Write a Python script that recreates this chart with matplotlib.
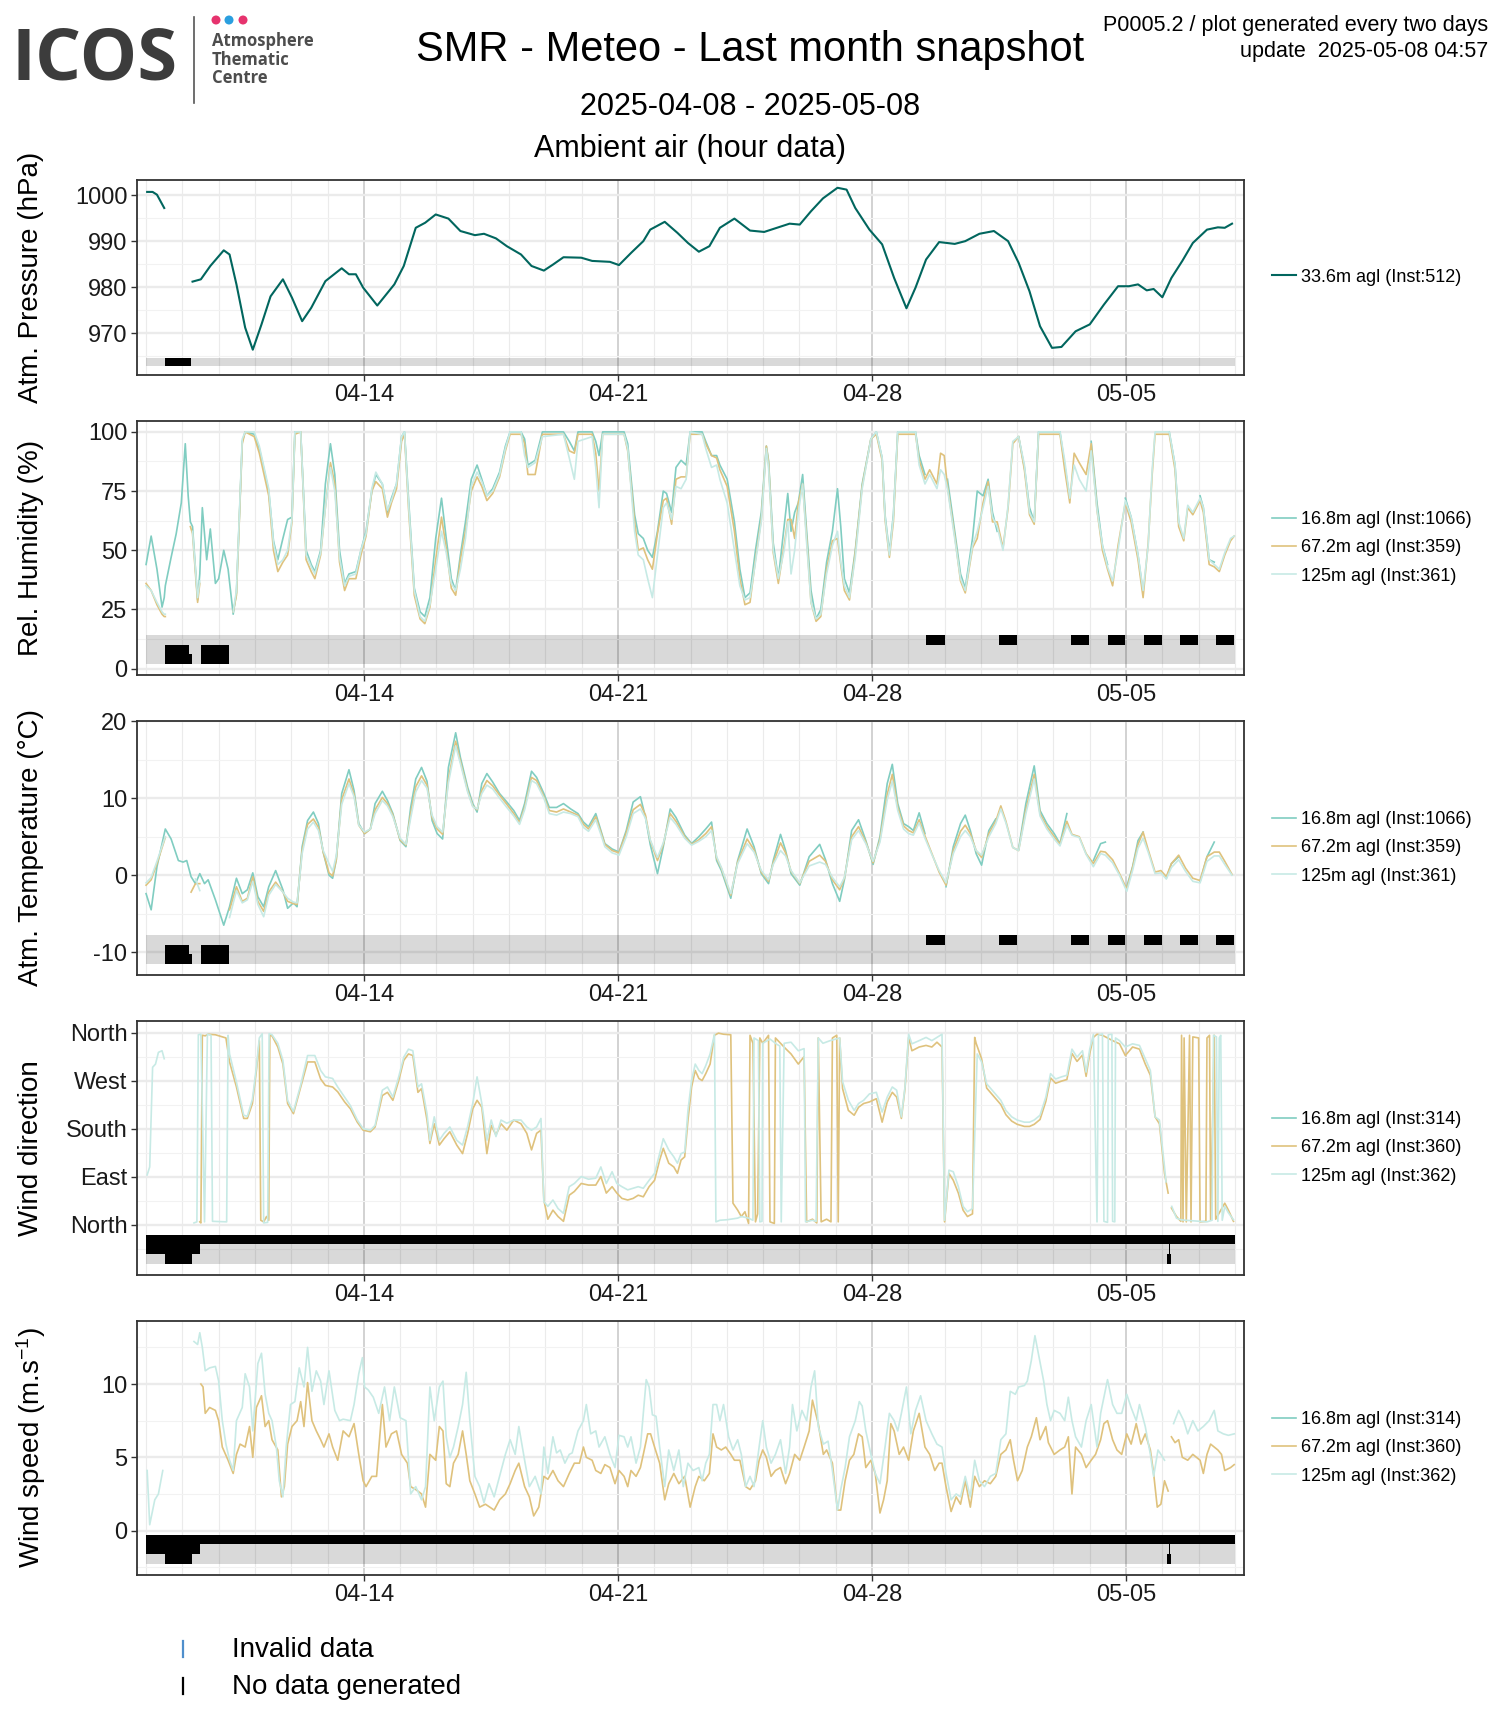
"""SMR meteo last-month snapshot: 5 stacked panels with data-availability bands."""
import matplotlib

matplotlib.use('Agg')
import matplotlib.pyplot as plt
import numpy as np
from matplotlib.ticker import FixedLocator

plt.rcParams['font.family'] = ['Liberation Sans', 'DejaVu Sans']
plt.rcParams['mathtext.default'] = 'regular'

C_PRES = '#01665E'
C_LOW = '#80CDC1'
C_MID = '#DFC27D'
C_HIGH = '#C7EAE5'
C_INK = '#333333'

# time axis: days since 2025-04-08 00:00
PERIOD = (0.0, 30.0)
TICK_DAYS = [6, 13, 20, 27]
TICK_LABELS = ['04-14', '04-21', '04-28', '05-05']

# ---------------- atmospheric pressure (hPa), 33.6 m
PRESSURE = [
    (0.03, 1000.7), (0.18, 1000.7), (0.30, 1000.1), (0.50, 997.2), (1.28, 981.2),
    (1.51, 981.7), (1.77, 984.6), (2.14, 988.0), (2.30, 987.1), (2.49, 980.6),
    (2.73, 971.2), (2.94, 966.4), (3.18, 971.9), (3.43, 978.0), (3.77, 981.7),
    (4.02, 977.7), (4.30, 972.6), (4.55, 975.5), (4.94, 981.3), (5.39, 984.1),
    (5.59, 982.8), (5.78, 982.8), (5.98, 979.9), (6.37, 976.0), (6.84, 980.6),
    (7.10, 984.6), (7.43, 992.9), (7.69, 994.0), (7.98, 995.8), (8.33, 994.9),
    (8.66, 992.2), (9.06, 991.3), (9.31, 991.6), (9.64, 990.6), (9.94, 988.9),
    (10.33, 987.1), (10.62, 984.6), (10.96, 983.6), (11.21, 984.9), (11.50, 986.5),
    (11.99, 986.4), (12.29, 985.7), (12.78, 985.5), (13.03, 984.8), (13.37, 987.5),
    (13.70, 990.0), (13.89, 992.5), (14.29, 994.2), (14.64, 991.8), (14.93, 989.6),
    (15.23, 987.7), (15.52, 988.9), (15.81, 992.9), (16.21, 994.9), (16.64, 992.3),
    (17.03, 992.0), (17.38, 992.9), (17.73, 993.8), (18.01, 993.6), (18.32, 996.5),
    (18.65, 999.3), (19.05, 1001.6), (19.30, 1001.2), (19.54, 997.2), (19.93, 992.5),
    (20.28, 989.3), (20.61, 982.0), (20.95, 975.4), (21.20, 979.9), (21.49, 986.0),
    (21.85, 989.8), (22.28, 989.4), (22.57, 990.0), (22.96, 991.6), (23.36, 992.2),
    (23.75, 990.0), (24.04, 985.3), (24.34, 979.1), (24.63, 971.5), (24.96, 966.8),
    (25.22, 967.0), (25.61, 970.4), (26.00, 971.9), (26.39, 976.2), (26.78, 980.2),
    (27.08, 980.2), (27.33, 980.6), (27.57, 979.3), (27.76, 979.6), (28.00, 977.8),
    (28.25, 982.0), (28.55, 985.7), (28.84, 989.6), (29.23, 992.5), (29.53, 993.0),
    (29.72, 992.9), (29.92, 993.8),
]
PRES_GAPS = [(0.53, 1.24)]

# ---------------- relative humidity (%), shared time knots
RH_DAYS = [
    0.00, 0.14, 0.30, 0.44, 0.50, 0.53, 0.69, 0.83, 0.97, 1.08,
    1.16, 1.22, 1.28, 1.42, 1.48, 1.55, 1.67, 1.77, 1.91, 2.00,
    2.14, 2.26, 2.40, 2.49, 2.65, 2.73, 2.98, 3.12, 3.38, 3.51,
    3.63, 3.77, 3.90, 4.02, 4.10, 4.26, 4.41, 4.55, 4.65, 4.81,
    4.94, 5.08, 5.20, 5.33, 5.47, 5.59, 5.78, 5.92, 6.06, 6.22,
    6.33, 6.51, 6.65, 6.76, 6.90, 7.04, 7.12, 7.23, 7.39, 7.55,
    7.68, 7.82, 7.98, 8.14, 8.27, 8.41, 8.53, 8.66, 8.80, 8.96,
    9.12, 9.25, 9.39, 9.55, 9.74, 9.90, 10.03, 10.33, 10.43, 10.52,
    10.72, 10.92, 11.50, 11.66, 11.80, 11.90, 12.29, 12.39, 12.48, 12.58,
    13.17, 13.27, 13.46, 13.56, 13.70, 13.82, 13.95, 14.09, 14.25, 14.34,
    14.48, 14.60, 14.74, 14.88, 14.99, 15.32, 15.42, 15.58, 15.72, 15.81,
    16.01, 16.21, 16.36, 16.50, 16.64, 16.79, 16.95, 17.09, 17.15, 17.28,
    17.42, 17.58, 17.68, 17.77, 17.87, 17.97, 18.09, 18.20, 18.32, 18.46,
    18.59, 18.75, 18.91, 19.05, 19.14, 19.24, 19.38, 19.54, 19.73, 19.97,
    20.12, 20.28, 20.36, 20.48, 20.59, 20.71, 21.20, 21.30, 21.46, 21.59,
    21.79, 21.89, 21.99, 22.08, 22.28, 22.44, 22.57, 22.77, 22.90, 23.06,
    23.20, 23.32, 23.45, 23.61, 23.75, 23.88, 24.04, 24.20, 24.34, 24.47,
    24.59, 25.18, 25.31, 25.45, 25.57, 25.71, 25.90, 26.04, 26.20, 26.35,
    26.49, 26.63, 26.78, 26.98, 27.14, 27.33, 27.47, 27.61, 27.72, 27.80,
    28.19, 28.35, 28.45, 28.59, 28.70, 28.84, 29.04, 29.13, 29.29, 29.43,
    29.57, 29.72, 29.88, 29.98,
]
RH_16 = [
    44, 56, 42, 26, 30, 35, 47, 57, 70, 95,
    73, 62, 60, 29, 40, 68, 46, 59, 36, 38,
    50, 42, 23, 32, 96, 100, 99, 93, 75, 54,
    46, 55, 63, 64, 100, 100, 50, 44, 41, 50,
    78, 95, 82, 50, 36, 40, 41, 50, 58, 75,
    82, 78, 66, 72, 78, 98, 100, 72, 34, 24,
    22, 30, 55, 72, 55, 38, 33, 48, 62, 80,
    86, 80, 73, 76, 83, 94, 100, 100, 97, 86,
    88, 100, 100, 96, 92, 100, 100, 96, 90, 100,
    100, 95, 65, 57, 55, 50, 47, 58, 75, 74,
    66, 85, 88, 86, 100, 100, 96, 90, 90, 86,
    80, 62, 42, 30, 32, 50, 66, 94, 88, 53,
    38, 60, 74, 58, 66, 70, 82, 58, 33, 21,
    25, 45, 58, 76, 60, 38, 32, 50, 78, 97,
    100, 89, 65, 49, 65, 100, 100, 90, 82, 86,
    80, 93, 100, 80, 58, 40, 34, 55, 75, 73,
    80, 66, 58, 52, 70, 95, 98, 85, 68, 62,
    100, 100, 86, 72, 92, 90, 80, 96, 70, 52,
    44, 36, 50, 72, 64, 48, 32, 55, 85, 100,
    100, 86, 62, 56, 70, 67, 73, 68, 46, 45,
    41, 50, 56, 57,
]
RH_67 = [
    36, 33, 27, 23, 22, 22, 40, 50, 58, 60,
    60, 60, 57, 28, 36, 36, 36, 36, 36, 36,
    36, 36, 24, 31, 95, 100, 98, 91, 73, 50,
    41, 45, 48, 62, 99, 100, 46, 41, 38, 48,
    68, 87, 78, 45, 33, 38, 38, 48, 56, 75,
    79, 76, 64, 70, 76, 96, 99, 68, 31, 21,
    19, 26, 46, 64, 51, 34, 31, 46, 58, 75,
    81, 77, 71, 74, 81, 92, 99, 99, 95, 82,
    82, 99, 99, 92, 91, 99, 99, 91, 75, 99,
    99, 92, 62, 50, 51, 46, 42, 57, 71, 72,
    61, 80, 81, 81, 99, 99, 95, 90, 89, 84,
    77, 58, 38, 27, 28, 46, 63, 94, 87, 49,
    36, 52, 63, 63, 55, 70, 78, 55, 28, 20,
    22, 42, 54, 55, 44, 33, 29, 49, 77, 97,
    99, 88, 63, 47, 62, 99, 99, 88, 80, 84,
    78, 91, 90, 77, 56, 37, 32, 51, 55, 70,
    79, 62, 62, 51, 68, 95, 98, 84, 65, 61,
    99, 99, 84, 70, 91, 87, 82, 95, 67, 50,
    42, 35, 52, 70, 62, 46, 30, 53, 82, 99,
    99, 84, 60, 54, 68, 65, 71, 66, 44, 43,
    41, 48, 54, 56,
]
RH_125 = [
    35, 33, 28, 24, 23, 23, 40, 50, 58, 60,
    60, 60, 58, 30, 37, 37, 37, 37, 37, 37,
    37, 37, 24, 33, 97, 100, 100, 94, 76, 53,
    44, 46, 50, 63, 100, 100, 48, 43, 40, 49,
    68, 85, 75, 47, 35, 39, 40, 50, 57, 76,
    83, 78, 67, 71, 78, 98, 100, 70, 33, 22,
    20, 27, 42, 58, 49, 36, 33, 42, 55, 77,
    83, 79, 73, 75, 82, 93, 100, 100, 90, 85,
    87, 98, 99, 89, 80, 96, 98, 85, 68, 99,
    99, 93, 58, 48, 46, 38, 30, 48, 68, 70,
    63, 77, 76, 80, 100, 99, 93, 85, 86, 80,
    70, 50, 35, 29, 30, 45, 62, 93, 85, 50,
    38, 50, 62, 40, 50, 66, 78, 53, 28, 21,
    23, 40, 52, 58, 45, 35, 30, 47, 76, 97,
    100, 89, 64, 48, 64, 100, 100, 86, 78, 82,
    76, 84, 82, 76, 55, 38, 33, 52, 58, 68,
    77, 64, 60, 50, 69, 96, 98, 86, 66, 62,
    100, 100, 88, 72, 86, 80, 75, 92, 67, 52,
    43, 37, 50, 71, 64, 48, 33, 52, 84, 100,
    100, 86, 62, 55, 69, 66, 72, 68, 46, 44,
    42, 49, 55, 56,
]

# ---------------- air temperature (degC), shared time knots
T_DAYS = [
    0.00, 0.14, 0.30, 0.53, 0.69, 0.89, 1.02, 1.12, 1.24, 1.36,
    1.48, 1.61, 1.71, 1.91, 2.14, 2.30, 2.49, 2.65, 2.79, 2.94,
    3.08, 3.24, 3.38, 3.57, 3.77, 3.90, 4.06, 4.16, 4.30, 4.45,
    4.61, 4.75, 4.88, 5.04, 5.14, 5.24, 5.39, 5.59, 5.73, 5.86,
    6.02, 6.18, 6.31, 6.51, 6.65, 6.80, 7.00, 7.16, 7.29, 7.43,
    7.59, 7.74, 7.88, 8.02, 8.17, 8.33, 8.53, 8.66, 8.86, 9.00,
    9.12, 9.25, 9.39, 9.55, 9.74, 9.94, 10.13, 10.29, 10.43, 10.62,
    10.76, 10.96, 11.11, 11.31, 11.50, 11.70, 11.90, 12.05, 12.19, 12.39,
    12.53, 12.64, 12.84, 13.03, 13.23, 13.42, 13.62, 13.76, 13.89, 14.09,
    14.25, 14.44, 14.60, 14.84, 15.03, 15.23, 15.42, 15.58, 15.72, 15.85,
    16.11, 16.30, 16.56, 16.75, 16.95, 17.15, 17.28, 17.48, 17.62, 17.77,
    18.01, 18.27, 18.56, 18.72, 18.91, 19.11, 19.24, 19.44, 19.63, 19.83,
    20.03, 20.22, 20.42, 20.56, 20.71, 20.87, 21.01, 21.14, 21.30, 21.46,
    21.65, 21.85, 22.04, 22.24, 22.44, 22.57, 22.71, 22.87, 23.02, 23.22,
    23.41, 23.55, 23.69, 23.88, 24.04, 24.24, 24.47, 24.63, 24.82, 25.02,
    25.18, 25.37, 25.51, 25.71, 25.90, 26.10, 26.30, 26.43, 26.63, 26.82,
    27.02, 27.18, 27.33, 27.47, 27.61, 27.80, 27.96, 28.11, 28.25, 28.45,
    28.64, 28.84, 29.04, 29.23, 29.43, 29.57, 29.72, 29.92,
]
T_16 = [
    -2.4, -4.5, 1.1, 6.0, 4.7, 1.9, 1.7, 1.9, -0.2, -1.1,
    0.2, -1.1, -0.6, -3.2, -6.5, -4.1, -0.4, -2.4, -1.9, 0.3,
    -2.8, -4.1, -1.5, 0.6, -1.9, -4.3, -3.6, -4.1, 3.7, 7.1,
    8.2, 6.7, 3.0, 0.0, -0.4, 2.0, 10.6, 13.7, 11.0, 6.7,
    5.4, 6.0, 9.3, 10.9, 9.7, 8.0, 4.5, 3.7, 8.8, 12.5,
    14.0, 12.2, 7.1, 5.4, 4.7, 14.0, 18.5, 15.3, 11.4, 9.3,
    8.2, 11.9, 13.2, 12.1, 10.6, 9.5, 8.4, 7.1, 9.3, 13.5,
    12.7, 10.6, 8.8, 8.8, 9.3, 8.6, 8.0, 6.9, 6.3, 8.0,
    5.8, 4.1, 3.4, 3.0, 5.8, 9.5, 10.2, 7.5, 4.0, 0.2,
    3.7, 8.6, 7.5, 5.2, 4.1, 5.0, 6.0, 6.9, 1.9, 0.6,
    -3.0, 1.9, 6.0, 3.7, 0.2, -1.1, 1.9, 5.3, 3.2, 0.2,
    -1.3, 2.4, 4.0, 2.0, -1.1, -3.4, -0.6, 5.8, 7.2, 4.5,
    1.4, 5.0, 11.9, 14.4, 9.3, 6.7, 6.3, 5.8, 8.1, 5.4,
    2.8, 0.2, -1.5, 3.7, 6.7, 7.8, 5.8, 2.8, 1.3, 5.8,
    7.3, 9.1, 7.1, 3.9, 3.4, 9.3, 14.2, 8.4, 6.7, 5.4,
    4.1, 8.0, 5.4, 5.0, 2.8, 1.9, 4.1, 4.3, 1.9, 0.2,
    -1.5, 1.1, 4.5, 5.6, 2.8, 0.2, 0.6, -0.4, 1.5, 2.4,
    1.1, -0.6, -0.8, 2.4, 4.3, 3.0, 2.0, 0.1,
]
T_67 = [
    -1.3, -0.6, 1.5, 4.9, 4.0, 1.5, 1.0, 0.0, -2.2, -1.1,
    -1.1, -1.5, -2.0, -3.0, -4.5, -4.5, -1.5, -3.4, -3.0, -0.2,
    -3.4, -4.7, -2.2, -0.9, -2.2, -3.4, -3.7, -3.8, 3.2, 6.6,
    7.3, 6.2, 3.0, 0.3, -0.1, 2.0, 9.8, 12.5, 10.5, 6.5,
    5.4, 6.0, 8.5, 10.1, 9.3, 7.8, 4.6, 3.9, 8.0, 11.5,
    12.9, 11.7, 7.5, 6.0, 5.3, 12.5, 17.4, 14.8, 11.0, 9.0,
    8.5, 11.0, 12.3, 11.6, 10.4, 9.2, 8.0, 6.8, 8.8, 12.7,
    12.3, 10.2, 8.4, 8.2, 8.6, 8.2, 7.8, 6.6, 6.0, 7.6,
    5.6, 4.0, 3.2, 2.9, 5.5, 8.5, 9.2, 7.8, 4.5, 1.9,
    4.0, 8.0, 7.0, 5.0, 4.0, 4.6, 5.4, 6.3, 2.2, 0.9,
    -2.6, 1.7, 4.7, 3.3, 0.4, -0.8, 1.6, 4.2, 2.9, 0.5,
    -1.1, 1.8, 2.6, 1.8, -0.6, -1.9, -0.4, 5.0, 6.3, 4.3,
    1.6, 4.6, 10.5, 13.1, 8.8, 6.4, 5.8, 5.5, 7.2, 5.1,
    2.8, 0.4, -1.3, 3.2, 5.7, 6.5, 5.4, 3.2, 2.3, 5.4,
    7.0, 9.0, 7.0, 3.6, 3.2, 8.5, 13.1, 8.0, 6.3, 5.0,
    4.0, 7.0, 5.3, 5.0, 2.8, 1.5, 3.1, 3.0, 2.0, 0.2,
    -1.8, 1.0, 4.0, 5.6, 3.3, 0.4, 0.6, -0.2, 1.5, 2.6,
    0.9, -0.4, -0.7, 2.4, 3.0, 3.0, 1.8, 0.1,
]
T_125 = [
    -1.0, -0.3, 1.8, 5.0, 4.0, 1.5, 1.0, 0.0, -1.5, -0.5,
    -2.0, -2.0, -2.0, -3.0, -5.0, -5.5, -2.0, -3.6, -3.2, -0.8,
    -3.8, -5.4, -2.6, -1.2, -2.2, -3.0, -3.5, -3.6, 2.8, 6.0,
    6.9, 5.8, 3.2, 1.5, 0.5, 2.5, 9.2, 11.9, 10.2, 6.5,
    5.6, 6.0, 8.0, 9.7, 9.0, 7.6, 4.8, 4.0, 7.4, 10.8,
    12.3, 11.3, 7.8, 6.3, 5.6, 12.0, 16.8, 14.5, 10.8, 8.9,
    8.6, 10.6, 11.7, 11.2, 10.0, 8.8, 7.7, 6.6, 8.5, 12.3,
    11.9, 10.0, 8.0, 7.8, 8.2, 8.0, 7.6, 6.2, 5.7, 7.2,
    5.3, 3.7, 2.9, 2.6, 5.0, 8.0, 8.6, 7.4, 4.6, 2.3,
    4.2, 7.5, 6.6, 4.8, 3.9, 4.4, 5.0, 5.8, 2.4, 1.0,
    -2.4, 1.5, 4.1, 3.0, 0.6, -0.6, 1.4, 3.2, 2.5, 0.6,
    -1.0, 1.2, 1.7, 1.4, -0.3, -1.5, -0.3, 4.6, 5.8, 4.1,
    1.8, 4.3, 9.8, 12.2, 8.4, 6.0, 5.4, 5.2, 6.8, 4.8,
    2.7, 0.6, -1.0, 2.8, 5.0, 5.8, 5.0, 3.2, 2.6, 5.0,
    6.7, 8.6, 6.8, 3.6, 3.2, 8.0, 12.5, 7.7, 6.0, 4.7,
    3.8, 6.5, 5.2, 4.9, 2.7, 1.1, 2.8, 2.6, 1.6, 0.0,
    -2.1, 0.6, 3.5, 4.8, 3.0, 0.2, 0.3, -0.5, 1.0, 2.0,
    0.5, -0.8, -1.0, 1.8, 2.5, 2.5, 1.4, 0.0,
]

# missing-data windows (days) shared by RH and temperature
GAPS_1066 = [(21.50, 22.00), (23.50, 24.00), (25.48, 25.98), (26.49, 26.98),
             (27.49, 27.98), (28.49, 28.98), (29.49, 29.98)]
GAPS_359 = [(0.53, 1.18), (1.52, 2.29)]
GAPS_361 = [(0.53, 1.27), (1.52, 2.29)]

# ---------------- wind direction (deg from north)
WD_67 = [
    (1.48, 5), (1.51, 3), (1.55, 355), (1.63, 354), (1.71, 357), (1.91, 356),
    (2.06, 353), (2.20, 350), (2.30, 305), (2.49, 258), (2.69, 199), (2.79, 199),
    (2.93, 227), (3.04, 289), (3.12, 345), (3.16, 8), (3.24, 5), (3.32, 15),
    (3.38, 8), (3.41, 355), (3.47, 354), (3.63, 333), (3.77, 301), (3.90, 227),
    (4.06, 208), (4.26, 258), (4.45, 305), (4.65, 305), (4.81, 273), (4.94, 261),
    (5.14, 258), (5.28, 249), (5.47, 230), (5.63, 217), (5.82, 192), (5.98, 177),
    (6.18, 174), (6.31, 183), (6.51, 242), (6.65, 248), (6.80, 233), (6.96, 270),
    (7.10, 308), (7.23, 320), (7.35, 317), (7.49, 248), (7.59, 255), (7.74, 196),
    (7.82, 152), (7.94, 189), (8.08, 149), (8.21, 161), (8.37, 174), (8.56, 149),
    (8.72, 133), (8.86, 171), (9.00, 217), (9.12, 233), (9.25, 220), (9.39, 133),
    (9.51, 186), (9.64, 168), (9.78, 189), (9.94, 177), (10.13, 196), (10.33, 189),
    (10.49, 171), (10.62, 140), (10.76, 171), (10.88, 177), (10.96, 46), (11.07, 10),
    (11.21, 27), (11.35, 15), (11.50, 6), (11.66, 55), (11.80, 62), (11.99, 77),
    (12.19, 74), (12.39, 74), (12.53, 90), (12.68, 59), (12.84, 71), (12.97, 59),
    (13.11, 49), (13.27, 46), (13.42, 49), (13.56, 55), (13.70, 52), (13.86, 71),
    (14.01, 83), (14.15, 121), (14.25, 143), (14.40, 115), (14.54, 108), (14.64, 96),
    (14.74, 121), (14.84, 127), (14.93, 196), (15.03, 258), (15.13, 289), (15.23, 274),
    (15.32, 270), (15.42, 283), (15.54, 301), (15.66, 355), (15.77, 359), (15.91, 357),
    (16.11, 356), (16.17, 40), (16.30, 27), (16.40, 15), (16.50, 24), (16.60, 2),
    (16.64, 355), (16.72, 340), (16.79, 5), (16.85, 20), (16.91, 350), (16.99, 340),
    (17.15, 355), (17.19, 5), (17.31, 2), (17.34, 350), (17.48, 340), (17.62, 330),
    (17.77, 320), (17.97, 301), (18.13, 315), (18.20, 5), (18.36, 10), (18.48, 3),
    (18.52, 350), (18.60, 5), (18.75, 10), (18.87, 5), (18.91, 350), (19.03, 355),
    (19.07, 5), (19.11, 350), (19.19, 255), (19.35, 214), (19.51, 205), (19.63, 220),
    (19.77, 227), (19.93, 230), (20.12, 236), (20.28, 192), (20.42, 230), (20.56, 248),
    (20.68, 239), (20.81, 199), (20.91, 255), (21.01, 351), (21.10, 326), (21.30, 333),
    (21.49, 336), (21.65, 333), (21.79, 342), (21.93, 333), (22.00, 5), (22.12, 96),
    (22.24, 83), (22.38, 59), (22.51, 27), (22.63, 15), (22.77, 20), (22.83, 351),
    (22.87, 340), (23.02, 311), (23.16, 256), (23.36, 240), (23.55, 225), (23.69, 206),
    (23.85, 194), (24.00, 188), (24.20, 184), (24.34, 184), (24.47, 188), (24.63, 197),
    (24.79, 231), (24.92, 275), (25.06, 265), (25.22, 269), (25.37, 272), (25.51, 321),
    (25.65, 306), (25.80, 318), (25.90, 278), (26.00, 321), (26.10, 351), (26.20, 357),
    (26.35, 355), (26.49, 350), (26.63, 345), (26.82, 339), (26.98, 317), (27.18, 333),
    (27.37, 329), (27.53, 301), (27.67, 280), (27.80, 202), (27.92, 189), (28.06, 96),
    (28.16, 59), (28.25, 31), (28.39, 15), (28.51, 6), (28.53, 355), (28.57, 5),
    (28.60, 350), (28.66, 5), (28.75, 355), (28.79, 5), (28.84, 352), (29.00, 350),
    (29.04, 5), (29.20, 6), (29.23, 350), (29.30, 355), (29.33, 8), (29.43, 355),
    (29.47, 10), (29.72, 40), (29.82, 27), (29.96, 6),
]
WD_125 = [
    (0.03, 93), (0.10, 108), (0.18, 295), (0.26, 301), (0.34, 323), (0.44, 326),
    (0.50, 311), (1.32, 3), (1.40, 5), (1.44, 356), (1.51, 357), (1.61, 5),
    (1.69, 357), (1.79, 355), (1.83, 6), (2.22, 5), (2.26, 355), (2.30, 320),
    (2.49, 267), (2.69, 205), (2.79, 203), (2.93, 235), (3.04, 295), (3.12, 350),
    (3.20, 358), (3.24, 3), (3.35, 4), (3.39, 358), (3.47, 356), (3.63, 340),
    (3.77, 308), (3.90, 233), (4.06, 212), (4.26, 262), (4.45, 317), (4.65, 317),
    (4.81, 289), (4.94, 277), (5.14, 274), (5.28, 258), (5.47, 239), (5.63, 223),
    (5.82, 196), (5.98, 180), (6.18, 177), (6.31, 186), (6.51, 252), (6.65, 258),
    (6.80, 239), (6.96, 277), (7.10, 314), (7.23, 329), (7.35, 326), (7.49, 258),
    (7.59, 264), (7.74, 208), (7.82, 158), (7.94, 202), (8.08, 158), (8.21, 171),
    (8.37, 183), (8.56, 158), (8.72, 149), (8.86, 184), (9.00, 227), (9.12, 277),
    (9.25, 227), (9.39, 158), (9.51, 196), (9.64, 165), (9.78, 196), (9.94, 190),
    (10.13, 196), (10.33, 196), (10.49, 183), (10.62, 177), (10.76, 183), (10.88, 199),
    (10.96, 43), (11.07, 34), (11.21, 46), (11.35, 30), (11.50, 21), (11.66, 71),
    (11.80, 77), (11.99, 90), (12.19, 85), (12.39, 87), (12.53, 108), (12.68, 77),
    (12.84, 99), (12.97, 77), (13.11, 71), (13.27, 65), (13.42, 68), (13.56, 71),
    (13.70, 68), (13.86, 83), (14.01, 96), (14.15, 133), (14.25, 161), (14.40, 140),
    (14.54, 127), (14.64, 115), (14.74, 133), (14.84, 136), (14.93, 214), (15.03, 270),
    (15.13, 301), (15.23, 289), (15.32, 283), (15.42, 298), (15.54, 320), (15.66, 357),
    (15.70, 5), (15.81, 8), (16.01, 9), (16.11, 10), (16.30, 12), (16.40, 15),
    (16.60, 12), (16.72, 8), (16.75, 350), (16.87, 345), (16.91, 5), (16.97, 6),
    (16.99, 340), (17.19, 348), (17.38, 338), (17.46, 335), (17.50, 5), (17.58, 340),
    (17.77, 342), (17.97, 326), (18.13, 330), (18.17, 5), (18.36, 8), (18.46, 6),
    (18.52, 350), (18.65, 340), (18.85, 345), (19.11, 350), (19.19, 268), (19.35, 233),
    (19.51, 214), (19.63, 227), (19.77, 233), (19.93, 245), (20.12, 248), (20.28, 211),
    (20.42, 239), (20.56, 258), (20.68, 252), (20.81, 202), (20.91, 258), (21.01, 357),
    (21.10, 339), (21.30, 345), (21.49, 351), (21.65, 345), (21.79, 351), (21.93, 357),
    (22.00, 8), (22.12, 102), (22.24, 99), (22.38, 71), (22.51, 34), (22.63, 24),
    (22.77, 30), (22.90, 320), (23.02, 305), (23.16, 264), (23.36, 248), (23.55, 233),
    (23.69, 214), (23.85, 202), (24.00, 196), (24.20, 192), (24.34, 192), (24.47, 196),
    (24.63, 205), (24.79, 239), (24.92, 283), (25.06, 273), (25.22, 277), (25.37, 280),
    (25.51, 329), (25.65, 314), (25.80, 326), (25.90, 286), (26.00, 329), (26.10, 357),
    (26.20, 5), (26.24, 355), (26.35, 358), (26.39, 6), (26.49, 4), (26.51, 356),
    (26.61, 357), (26.63, 6), (26.69, 5), (26.71, 350), (26.82, 345), (26.98, 333),
    (27.18, 339), (27.37, 336), (27.53, 311), (27.67, 289), (27.80, 202), (27.92, 196),
    (28.06, 108), (28.10, 80), (28.26, 34), (28.39, 12), (28.51, 9), (28.64, 8),
    (28.84, 7), (29.04, 6), (29.23, 5), (29.37, 8), (29.41, 355), (29.49, 352),
    (29.53, 6), (29.57, 350), (29.61, 355), (29.65, 8), (29.72, 34), (29.82, 22),
    (29.96, 9),
]

# ---------------- wind speed (m/s)
WS_67 = [
    (1.51, 10.0), (1.57, 9.8), (1.63, 8.0), (1.75, 8.4), (1.91, 8.2), (2.00, 7.5),
    (2.10, 5.7), (2.26, 4.8), (2.40, 3.9), (2.49, 5.2), (2.59, 5.9), (2.73, 5.7),
    (2.85, 7.1), (2.94, 5.0), (3.04, 8.4), (3.18, 9.2), (3.28, 7.1), (3.38, 7.5),
    (3.47, 6.2), (3.63, 5.5), (3.73, 2.3), (3.81, 3.0), (3.90, 5.9), (4.02, 7.1),
    (4.16, 7.5), (4.26, 8.8), (4.35, 7.1), (4.45, 10.1), (4.57, 7.5), (4.69, 6.8),
    (4.81, 6.2), (4.90, 5.7), (5.04, 6.6), (5.14, 5.7), (5.28, 4.8), (5.43, 6.8),
    (5.59, 6.4), (5.73, 7.3), (5.86, 5.2), (5.98, 3.4), (6.06, 3.0), (6.22, 3.7),
    (6.35, 3.7), (6.51, 8.6), (6.61, 5.7), (6.76, 6.6), (6.90, 6.8), (7.04, 5.2),
    (7.20, 4.6), (7.29, 3.0), (7.43, 2.8), (7.59, 2.5), (7.70, 1.6), (7.82, 5.2),
    (7.98, 4.8), (8.08, 7.1), (8.18, 6.8), (8.27, 3.2), (8.37, 3.0), (8.47, 4.6),
    (8.60, 5.2), (8.72, 6.8), (8.82, 5.2), (8.92, 3.4), (9.06, 2.5), (9.19, 1.6),
    (9.35, 1.8), (9.47, 1.6), (9.59, 1.4), (9.74, 2.1), (9.90, 2.5), (10.03, 3.2),
    (10.17, 4.1), (10.27, 4.6), (10.43, 3.0), (10.56, 2.3), (10.68, 1.0), (10.82, 1.6),
    (10.96, 3.7), (11.07, 3.5), (11.21, 4.1), (11.35, 3.4), (11.50, 3.0), (11.66, 3.9),
    (11.80, 4.6), (11.94, 4.6), (12.05, 5.7), (12.13, 5.0), (12.29, 4.8), (12.39, 4.1),
    (12.53, 3.9), (12.64, 4.5), (12.78, 4.3), (12.92, 3.2), (13.03, 4.1), (13.17, 3.7),
    (13.27, 3.0), (13.36, 4.1), (13.50, 3.7), (13.62, 4.3), (13.70, 5.2), (13.82, 6.6),
    (13.90, 6.6), (14.01, 5.7), (14.15, 4.6), (14.29, 2.1), (14.40, 3.2), (14.54, 3.9),
    (14.68, 3.2), (14.84, 3.7), (14.99, 1.6), (15.13, 3.0), (15.23, 3.7), (15.38, 3.4),
    (15.52, 3.9), (15.62, 6.6), (15.72, 5.7), (15.85, 5.5), (15.97, 5.7), (16.11, 5.2),
    (16.21, 4.8), (16.36, 4.8), (16.52, 3.0), (16.64, 2.8), (16.79, 3.4), (16.89, 4.8),
    (16.99, 5.5), (17.09, 5.0), (17.22, 3.7), (17.34, 4.1), (17.48, 4.3), (17.62, 3.2),
    (17.73, 3.9), (17.87, 5.2), (18.01, 4.8), (18.13, 5.7), (18.27, 6.8), (18.36, 8.9),
    (18.52, 7.3), (18.66, 5.2), (18.75, 5.5), (18.91, 4.6), (19.05, 1.4), (19.14, 1.4),
    (19.26, 3.4), (19.38, 4.8), (19.50, 5.2), (19.63, 6.6), (19.73, 6.4), (19.83, 4.3),
    (19.97, 4.8), (20.09, 3.9), (20.22, 1.2), (20.32, 2.1), (20.42, 3.4), (20.52, 7.3),
    (20.61, 6.8), (20.75, 5.2), (20.87, 5.7), (21.01, 4.8), (21.14, 6.8), (21.30, 8.0),
    (21.46, 5.7), (21.59, 5.2), (21.73, 4.1), (21.85, 4.6), (21.93, 4.6), (22.04, 3.0),
    (22.18, 1.3), (22.32, 2.3), (22.44, 1.8), (22.57, 3.4), (22.71, 1.6), (22.83, 3.7),
    (22.96, 3.0), (23.10, 3.4), (23.26, 3.2), (23.41, 3.7), (23.55, 5.2), (23.69, 5.5),
    (23.81, 6.2), (23.90, 4.8), (24.01, 3.4), (24.14, 4.1), (24.28, 5.7), (24.39, 6.4),
    (24.53, 7.7), (24.63, 6.2), (24.79, 7.1), (24.86, 6.0), (25.02, 5.2), (25.18, 5.5),
    (25.31, 5.7), (25.41, 6.4), (25.51, 2.5), (25.61, 5.7), (25.77, 5.2), (25.90, 4.3),
    (26.04, 4.8), (26.16, 5.2), (26.30, 6.2), (26.39, 7.3), (26.49, 7.5), (26.63, 6.2),
    (26.75, 5.5), (26.88, 5.2), (27.02, 6.6), (27.14, 5.9), (27.28, 7.3), (27.41, 5.9),
    (27.53, 6.6), (27.67, 5.5), (27.76, 3.9), (27.86, 1.6), (27.96, 1.8), (28.06, 3.4),
    (28.16, 2.7), (28.25, 6.4), (28.35, 6.0), (28.45, 6.2), (28.55, 5.0), (28.70, 4.8),
    (28.84, 5.2), (28.94, 5.0), (29.04, 4.8), (29.13, 3.9), (29.23, 5.2), (29.33, 5.9),
    (29.43, 5.7), (29.53, 5.5), (29.63, 5.2), (29.72, 4.1), (29.88, 4.3), (29.98, 4.5),
]
WS_125 = [
    (0.03, 4.1), (0.10, 0.4), (0.24, 2.1), (0.34, 2.5), (0.46, 4.1), (1.32, 12.9),
    (1.42, 12.7), (1.48, 13.5), (1.55, 12.5), (1.63, 10.9), (1.75, 11.1), (1.91, 11.2),
    (2.00, 10.2), (2.10, 7.5), (2.20, 5.9), (2.30, 4.8), (2.40, 4.1), (2.49, 7.5),
    (2.65, 8.4), (2.73, 10.7), (2.85, 9.8), (2.94, 6.8), (3.08, 11.4), (3.18, 12.1),
    (3.28, 9.3), (3.38, 8.0), (3.47, 7.5), (3.59, 5.7), (3.67, 3.4), (3.77, 2.3),
    (3.86, 5.7), (3.98, 8.6), (4.10, 8.8), (4.22, 11.1), (4.35, 9.8), (4.45, 12.5),
    (4.57, 9.5), (4.69, 10.9), (4.81, 10.2), (4.90, 8.6), (5.04, 10.9), (5.20, 8.2),
    (5.33, 7.5), (5.43, 7.6), (5.63, 7.5), (5.73, 8.6), (5.86, 10.7), (5.96, 11.8),
    (6.02, 9.8), (6.12, 9.6), (6.26, 9.1), (6.41, 8.0), (6.57, 9.8), (6.71, 7.5),
    (6.84, 9.8), (7.00, 7.7), (7.16, 7.5), (7.29, 2.5), (7.43, 3.0), (7.59, 2.1),
    (7.70, 3.0), (7.82, 9.8), (7.94, 7.5), (8.08, 9.8), (8.18, 10.2), (8.27, 6.4),
    (8.37, 5.0), (8.47, 5.7), (8.60, 7.1), (8.72, 8.6), (8.82, 10.8), (8.92, 7.5),
    (9.06, 3.7), (9.19, 3.0), (9.31, 1.9), (9.45, 3.2), (9.59, 2.3), (9.74, 3.7),
    (9.90, 5.2), (10.03, 6.2), (10.17, 5.2), (10.27, 7.1), (10.43, 4.8), (10.56, 3.0),
    (10.72, 3.7), (10.88, 2.5), (10.96, 5.7), (11.07, 3.9), (11.21, 6.4), (11.31, 5.3),
    (11.41, 5.5), (11.54, 4.6), (11.66, 5.2), (11.74, 5.3), (11.90, 6.8), (12.05, 7.5),
    (12.13, 8.6), (12.25, 6.6), (12.39, 6.8), (12.48, 5.7), (12.64, 6.4), (12.78, 5.2),
    (12.92, 4.3), (13.03, 6.5), (13.17, 6.4), (13.27, 5.7), (13.36, 6.4), (13.50, 4.6),
    (13.62, 5.7), (13.70, 8.0), (13.78, 10.3), (13.86, 9.8), (13.95, 7.9), (14.05, 7.8),
    (14.15, 5.7), (14.29, 3.0), (14.40, 5.5), (14.54, 4.1), (14.68, 5.5), (14.80, 3.0),
    (14.93, 4.6), (15.07, 4.1), (15.23, 4.3), (15.32, 3.4), (15.42, 4.6), (15.52, 5.2),
    (15.62, 8.6), (15.72, 8.6), (15.81, 7.5), (15.91, 8.6), (16.05, 6.4), (16.17, 5.5),
    (16.30, 6.2), (16.40, 5.2), (16.52, 3.0), (16.64, 3.7), (16.75, 3.0), (16.89, 5.7),
    (16.99, 7.5), (17.09, 5.7), (17.22, 4.6), (17.34, 5.2), (17.48, 6.2), (17.62, 3.9),
    (17.73, 5.7), (17.81, 8.6), (17.93, 6.8), (18.07, 8.2), (18.20, 7.5), (18.32, 9.8),
    (18.42, 10.9), (18.52, 7.1), (18.66, 5.9), (18.79, 6.1), (18.91, 4.1), (19.05, 1.4),
    (19.14, 2.8), (19.26, 4.3), (19.38, 6.4), (19.54, 7.5), (19.65, 8.8), (19.73, 8.5),
    (19.83, 6.8), (19.97, 5.2), (20.09, 3.9), (20.22, 3.2), (20.36, 5.7), (20.48, 8.0),
    (20.61, 7.5), (20.71, 6.8), (20.81, 8.0), (20.95, 9.8), (21.07, 6.6), (21.20, 8.2),
    (21.34, 9.2), (21.49, 7.5), (21.65, 6.6), (21.79, 5.9), (21.93, 5.7), (22.04, 3.9),
    (22.18, 2.1), (22.32, 2.5), (22.44, 2.3), (22.57, 3.7), (22.71, 2.3), (22.83, 4.8),
    (22.96, 3.4), (23.10, 3.0), (23.26, 3.7), (23.41, 3.9), (23.55, 6.2), (23.69, 6.6),
    (23.81, 9.5), (23.95, 9.3), (24.04, 9.8), (24.20, 9.9), (24.28, 10.2), (24.39, 11.6),
    (24.49, 13.3), (24.59, 12.0), (24.73, 10.2), (24.82, 8.6), (24.92, 7.5), (25.02, 8.2),
    (25.18, 8.0), (25.31, 7.5), (25.41, 9.1), (25.51, 7.5), (25.61, 6.4), (25.77, 5.7),
    (25.90, 7.5), (26.04, 8.6), (26.20, 5.7), (26.30, 8.0), (26.39, 9.1), (26.49, 10.3),
    (26.63, 8.6), (26.75, 8.0), (26.88, 8.0), (27.02, 9.3), (27.14, 8.4), (27.28, 7.5),
    (27.37, 8.6), (27.53, 7.1), (27.67, 5.2), (27.76, 3.7), (27.88, 5.5), (27.96, 5.2),
    (28.06, 4.8), (28.31, 7.3), (28.45, 8.2), (28.59, 7.5), (28.70, 6.6), (28.84, 7.5),
    (28.98, 6.8), (29.13, 7.1), (29.29, 7.5), (29.43, 8.2), (29.53, 6.8), (29.68, 6.6),
    (29.82, 6.5), (29.98, 6.6),
]
GAPS_314 = [(0.0, 30.0)]
GAPS_360 = [(0.0, 1.48), (28.19, 28.22)]
GAPS_362 = [(0.53, 1.27), (28.13, 28.25)]

LAB_PRES = ['33.6m agl (Inst:512)']
LAB_RHT = ['16.8m agl (Inst:1066)', '67.2m agl (Inst:359)', '125m agl (Inst:361)']
LAB_WIND = ['16.8m agl (Inst:314)', '67.2m agl (Inst:360)', '125m agl (Inst:362)']


def with_gaps(days, vals, gaps):
    """drop knots inside gaps and insert NaN so the line breaks there"""
    t = np.asarray(days, dtype=float)
    v = np.asarray(vals, dtype=float)
    keep = np.ones(t.size, dtype=bool)
    for a, b in gaps:
        keep &= ~((t > a) & (t < b))
    mids = np.array([(a + b) / 2 for a, b in gaps])
    t = np.concatenate([t[keep], mids])
    v = np.concatenate([v[keep], np.full(mids.size, np.nan)])
    o = np.argsort(t, kind='stable')
    return t[o], v[o]


def pairs(p):
    if not p:
        return [], []
    d, v = zip(*p)
    return list(d), list(v)


def px_axes(fig, left, top, right, bottom):
    W, H = 1500, 1725
    return fig.add_axes([left / W, 1 - bottom / H, (right - left) / W, (bottom - top) / H])


def style_axes(ax, ylim, major, minor, ylabel, yticklabels=None):
    ax.set_xlim(-0.25, 30.25)
    ax.set_ylim(*ylim)
    ax.xaxis.set_major_locator(FixedLocator(TICK_DAYS))
    ax.set_xticklabels(TICK_LABELS)
    ax.xaxis.set_minor_locator(FixedLocator(list(range(0, 31))))
    ax.yaxis.set_major_locator(FixedLocator(major))
    ax.yaxis.set_minor_locator(FixedLocator(minor))
    if yticklabels is not None:
        ax.set_yticklabels(yticklabels)
    ax.set_axisbelow(True)
    ax.xaxis.grid(True, which='major', color='#C6C6C6', lw=1.1)
    ax.xaxis.grid(True, which='minor', color='#EBEBEB', lw=0.8)
    ax.yaxis.grid(True, which='major', color='#EBEBEB', lw=1.7)
    ax.yaxis.grid(True, which='minor', color='#F2F2F2', lw=0.8)
    ax.tick_params(which='minor', length=0)
    ax.tick_params(which='major', length=4, width=1.0, color=C_INK,
                   labelsize=17, labelcolor='#1a1a1a')
    ax.tick_params(axis='x', pad=2.5)
    ax.tick_params(axis='y', pad=3)
    for s in ax.spines.values():
        s.set_color(C_INK)
        s.set_linewidth(1.3)
    ax.set_ylabel(ylabel, fontsize=20, va='center')
    ax.yaxis.set_label_coords(-0.0958, 0.5)


def draw_band(ax, band, gap_rows):
    lo, hi = band
    ax.broken_barh([(PERIOD[0], PERIOD[1] - PERIOD[0])], (lo, hi - lo),
                   facecolors='black', alpha=0.15, lw=0, zorder=1.5)
    h = (hi - lo) / len(gap_rows)
    for i, gaps in enumerate(gap_rows):
        ax.broken_barh([(a, b - a) for a, b in gaps], (hi - (i + 1) * h, h),
                       facecolors='black', lw=0, zorder=4)


def add_legend(ax, handles, labels):
    ax.legend(handles, labels, loc='center left', bbox_to_anchor=(1 + 28 / 1107, 0.5),
              frameon=False, borderaxespad=0, borderpad=0, fontsize=13,
              handlelength=1.35, handletextpad=0.25, labelspacing=0.62)


def main():
    fig = plt.figure(figsize=(15, 17.25), dpi=100)

    # ---- panel 1: pressure
    ax = px_axes(fig, 137, 179.5, 1244, 375)
    style_axes(ax, (960.9, 1003.4), [970, 980, 990, 1000], [965, 975, 985, 995],
               'Atm. Pressure (hPa)')
    draw_band(ax, (962.9, 964.6), [PRES_GAPS])
    t, v = with_gaps(*pairs(PRESSURE), PRES_GAPS)
    l0, = ax.plot(t, v, color=C_PRES, lw=1.5, zorder=3)
    add_legend(ax, [l0], LAB_PRES)

    # ---- panel 2: RH
    ax = px_axes(fig, 137, 421, 1244, 675)
    style_axes(ax, (-2.68, 104.6), [0, 25, 50, 75, 100], [12.5, 37.5, 62.5, 87.5],
               'Rel. Humidity (%)')
    draw_band(ax, (2.0, 14.2), [GAPS_1066, GAPS_359, GAPS_361])
    hs = []
    for vals, gaps, c in ((RH_16, GAPS_1066, C_LOW), (RH_67, GAPS_359, C_MID),
                          (RH_125, GAPS_361, C_HIGH)):
        t, v = with_gaps(RH_DAYS, vals, gaps)
        hs.append(ax.plot(t, v, color=c, lw=1.2, zorder=3)[0])
    add_legend(ax, hs, LAB_RHT)

    # ---- panel 3: temperature
    ax = px_axes(fig, 137, 721, 1244, 975)
    style_axes(ax, (-12.97, 20.03), [-10, 0, 10, 20], [-5, 5, 15],
               'Atm. Temperature (°C)')
    ax.set_yticklabels(['-10', '0', '10', '20'])
    draw_band(ax, (-11.51, -7.76), [GAPS_1066, GAPS_359, GAPS_361])
    hs = []
    for vals, gaps, c in ((T_16, GAPS_1066, C_LOW), (T_67, GAPS_359, C_MID),
                          (T_125, GAPS_361, C_HIGH)):
        t, v = with_gaps(T_DAYS, vals, gaps)
        hs.append(ax.plot(t, v, color=c, lw=1.2, zorder=3)[0])
    add_legend(ax, hs, LAB_RHT)

    # ---- panel 4: wind direction
    ax = px_axes(fig, 137, 1021, 1244, 1275)
    style_axes(ax, (-94.7, 381.8), [0, 90, 180, 270, 360], [-45, 45, 135, 225, 315],
               'Wind direction', ['North', 'East', 'South', 'West', 'North'])
    draw_band(ax, (-73.5, -19.3), [GAPS_314, GAPS_360, GAPS_362])
    hs = [ax.plot([], [], color=C_LOW, lw=1.2)[0]]
    for series, gaps, c in ((WD_67, GAPS_360, C_MID), (WD_125, GAPS_362, C_HIGH)):
        t, v = with_gaps(*pairs(series), gaps)
        hs.append(ax.plot(t, v, color=c, lw=1.2, zorder=3)[0])
    add_legend(ax, hs, LAB_WIND)

    # ---- panel 5: wind speed
    ax = px_axes(fig, 137, 1321, 1244, 1575)
    style_axes(ax, (-3.03, 14.3), [0, 5, 10], [-2.5, 2.5, 7.5, 12.5],
               'Wind speed (m.s$^{-1}$)')
    draw_band(ax, (-2.26, -0.29), [GAPS_314, GAPS_360, GAPS_362])
    hs = [ax.plot([], [], color=C_LOW, lw=1.2)[0]]
    for series, gaps, c in ((WS_67, GAPS_360, C_MID), (WS_125, GAPS_362, C_HIGH)):
        t, v = with_gaps(*pairs(series), gaps)
        hs.append(ax.plot(t, v, color=c, lw=1.2, zorder=3)[0])
    add_legend(ax, hs, LAB_WIND)

    # ---- header texts
    fig.text(0.5, 1 - 50 / 1725, 'SMR - Meteo - Last month snapshot',
             ha='center', va='center', fontsize=30)
    fig.text(0.5, 1 - 107 / 1725, '2025-04-08 - 2025-05-08',
             ha='center', va='center', fontsize=22)
    fig.text(690 / 1500, 1 - 149 / 1725, 'Ambient air (hour data)',
             ha='center', va='center', fontsize=22)
    fig.text(1488 / 1500, 1 - 25 / 1725, 'P0005.2 / plot generated every two days',
             ha='right', va='center', fontsize=15.5)
    fig.text(1488 / 1500, 1 - 51 / 1725, 'update  2025-05-08 04:57',
             ha='right', va='center', fontsize=15.5)

    # ---- logo and bottom key, drawn in a pixel-space overlay
    deco = fig.add_axes([0, 0, 1, 1])
    deco.set_xlim(0, 1500)
    deco.set_ylim(1725, 0)
    deco.axis('off')
    deco.text(11, 61, 'ICOS', fontsize=52, fontweight='bold', color='#3c3c3c',
              family=['Open Sans', 'DejaVu Sans'], ha='left', va='center')
    deco.plot([194, 194], [17, 103], color='#555555', lw=1.2)
    deco.scatter([216, 229, 243], [20, 20, 20], s=42,
                 c=['#E6336E', '#2A9FDF', '#E6336E'], lw=0)
    for y, word in zip((41, 60, 78), ('Atmosphere', 'Thematic', 'Centre')):
        deco.text(212, y, word, fontsize=12, fontweight='bold', color='#4d4d4d',
                  family=['Open Sans', 'DejaVu Sans'], ha='left', va='center')
    deco.plot([183, 183], [1641, 1657], color='#4F8FCC', lw=1.6)
    deco.plot([183, 183], [1678, 1694], color='black', lw=1.6)
    deco.text(232, 1650, 'Invalid data', fontsize=20, ha='left', va='center')
    deco.text(232, 1687, 'No data generated', fontsize=20, ha='left', va='center')

    fig.savefig('out.png', dpi=100)


if __name__ == '__main__':
    main()
